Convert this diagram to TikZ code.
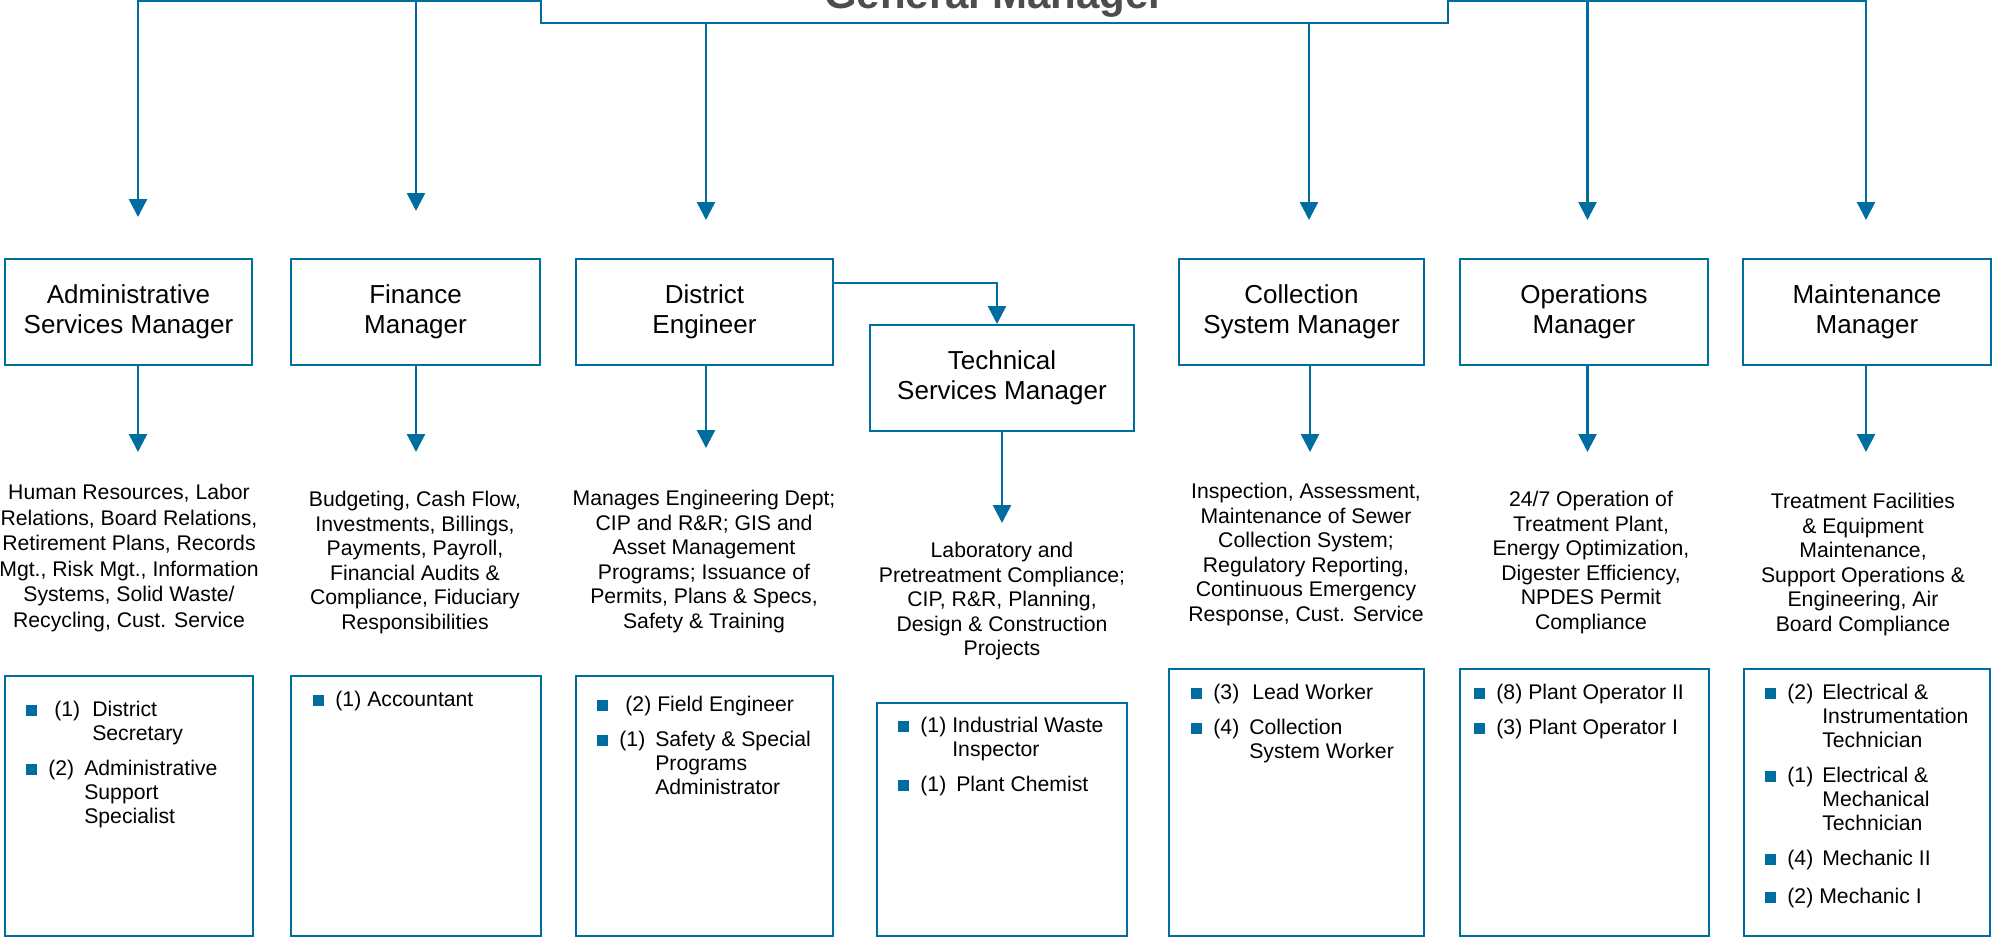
\documentclass[tikz,border=0pt]{standalone}
\usepackage{fontspec}
\setmainfont{Liberation Sans}
\usetikzlibrary{arrows.meta}

\definecolor{orgblue}{RGB}{0,109,160}
\definecolor{gmgray}{RGB}{77,77,77}

\newcommand{\sq}{\textcolor{orgblue}{\rule[0.3pt]{5.5pt}{5.5pt}}}
\newcommand{\staffitem}[3][4.5pt]{\sq\hspace{5.5pt}#2\hspace{#1}\begin{tabular}[t]{@{}l@{}}#3\end{tabular}}
\newcommand{\itemgap}[1][5.5pt]{\\\noalign{\vskip #1}}

\begin{document}
\begin{tikzpicture}[x=0.5pt,y=-0.5pt,
    mgr/.style={draw=orgblue,line width=1pt,minimum height=53pt,inner sep=0pt,align=center,font=\fontsize{13}{15}\selectfont},
    task/.style={anchor=north,inner sep=0pt,align=center,font=\fontsize{10.6}{12.25}\selectfont},
    staff/.style={draw=orgblue,line width=1pt,inner sep=0pt},
    list/.style={anchor=north west,inner sep=0pt,font=\fontsize{10.6}{12}\selectfont},
    link/.style={draw=orgblue,line width=1.25pt,-{Triangle[length=9pt,width=9pt]}}]
      \useasboundingbox (0,0) rectangle (1995,938);
      \clip (0,0) rectangle (1995,938);

      % top
      \node[draw=orgblue,line width=1pt,anchor=south,minimum width=453.5pt,inner ysep=2.6pt,
            font=\fontsize{21}{25}\selectfont\bfseries,text=gmgray] (gm) at (994.5,24) {General Manager};
      \coordinate (topline) at (0,1);

      % managers
      \foreach \pos/\bw/\name/\txt in {
          {(128.5,312)/123.5pt/admin/Administrative\\Services Manager},
          {(415.5,312)/124.5pt/finance/Finance\\Manager},
          {(704.5,312)/128.5pt/district/District\\Engineer},
          {(1002,378)/132pt/tech/Technical\\Services Manager},
          {(1301.5,312)/122.5pt/collection/Collection\\System Manager},
          {(1584,312)/124pt/ops/Operations\\Manager},
          {(1867,312)/124pt/maint/Maintenance\\Manager}}
      \node[mgr,minimum width=\bw] (\name) at \pos {\txt};

      % duties
      \node[task,font=\fontsize{10.6}{12.75}\selectfont] (admintask) at (129,484) {Human Resources, Labor\\Relations, Board Relations,\\Retirement Plans, Records\\Mgt., Risk Mgt., Information\\Systems, Solid Waste/\\Recycling, Cust. Service};
      \node[task] (financetask) at (415,491) {Budgeting, Cash Flow,\\Investments, Billings,\\Payments, Payroll,\\Financial Audits \&\\Compliance, Fiduciary\\Responsibilities};
      \node[task] (districttask) at (704,490) {Manages Engineering Dept;\\CIP and R\&R; GIS and\\Asset Management\\Programs; Issuance of\\Permits, Plans \& Specs,\\Safety \& Training};
      \node[task] (techtask) at (1002,542) {Laboratory and\\Pretreatment Compliance;\\CIP, R\&R, Planning,\\Design \& Construction\\Projects};
      \node[task] (collectiontask) at (1306,483) {Inspection, Assessment,\\Maintenance of Sewer\\Collection System;\\Regulatory Reporting,\\Continuous Emergency\\Response, Cust. Service};
      \node[task] (opstask) at (1591,491) {24/7 Operation of\\Treatment Plant,\\Energy Optimization,\\Digester Efficiency,\\NPDES Permit\\Compliance};
      \node[task] (mainttask) at (1863,493) {Treatment Facilities\\\& Equipment\\Maintenance,\\Support Operations \&\\Engineering, Air\\Board Compliance};

      % staff boxes
      \foreach \pos/\bw/\bh/\name in {
          {(129,806)/124pt/130pt/adminstaff},
          {(416,806)/125pt/130pt/financestaff},
          {(704.5,806)/128.5pt/130pt/districtstaff},
          {(1002,819.5)/125pt/116.5pt/techstaff},
          {(1296.5,802.5)/127.5pt/133.5pt/collectionstaff},
          {(1584.5,802.5)/124.5pt/133.5pt/opsstaff},
          {(1867,802.5)/123pt/133.5pt/maintstaff}}
      \node[staff,minimum width=\bw,minimum height=\bh] (\name) at \pos {};

      \node[list] (adminlist) at ([shift={(22,24)}]adminstaff.north west) {\begin{tabular}{@{}l@{}}
          \staffitem[6pt]{\hspace{3pt}(1)}{District\\Secretary}\itemgap
          \staffitem[5pt]{(2)}{Administrative\\Support\\Specialist}\end{tabular}};
      \node[list] (financelist) at ([shift={(23,14)}]financestaff.north west) {\begin{tabular}{@{}l@{}}
          \staffitem[3pt]{(1)}{Accountant}\end{tabular}};
      \node[list] (districtlist) at ([shift={(22,19)}]districtstaff.north west) {\begin{tabular}{@{}l@{}}
          \staffitem[3pt]{\hspace{3pt}(2)}{Field Engineer}\itemgap
          \staffitem[5pt]{(1)}{Safety \& Special\\Programs\\Administrator}\end{tabular}};
      \node[list] (techlist) at ([shift={(22,13)}]techstaff.north west) {\begin{tabular}{@{}l@{}}
          \staffitem[3pt]{(1)}{Industrial Waste\\Inspector}\itemgap
          \staffitem[5pt]{(1)}{Plant Chemist}\end{tabular}};
      \node[list] (collectionlist) at ([shift={(23,14)}]collectionstaff.north west) {\begin{tabular}{@{}l@{}}
          \staffitem[6.5pt]{(3)}{Lead Worker}\itemgap
          \staffitem[5pt]{(4)}{Collection\\System Worker}\end{tabular}};
      \node[list] (opslist) at ([shift={(15,14)}]opsstaff.north west) {\begin{tabular}{@{}l@{}}
          \staffitem[3pt]{(8)}{Plant Operator II}\itemgap
          \staffitem[3pt]{(3)}{Plant Operator I}\end{tabular}};
      \node[list] (maintlist) at ([shift={(22,14)}]maintstaff.north west) {\begin{tabular}{@{}l@{}}
          \staffitem{(2)}{Electrical \&\\Instrumentation\\Technician}\itemgap
          \staffitem{(1)}{Electrical \&\\Mechanical\\Technician}\itemgap
          \staffitem{(4)}{Mechanic II}\itemgap[7pt]
          \staffitem[3pt]{(2)}{Mechanic I}\end{tabular}};

      % connectors
      \foreach \dest/\dx/\gap in {admin/4.75pt/20.5pt, finance/0.25pt/23.5pt}
      {
        \coordinate (\dest-in) at ([xshift=\dx]\dest.north);
        \path[link,shorten >=\gap] (gm.west |- topline) -| (\dest-in);
      }
      \foreach \dest/\dx in {ops/1.75pt, maint/-0.5pt}
      {
        \coordinate (\dest-in) at ([xshift=\dx]\dest.north);
        \path[link,shorten >=19pt] (gm.east |- topline) -| (\dest-in);
      }
      \foreach \dest/\dx in {district/0.75pt, collection/3.75pt}
      {
        \coordinate (\dest-in) at ([xshift=\dx]\dest.north);
        \path[link,shorten >=19pt] (\dest-in |- gm.south) -- (\dest-in);
      }
      \path[link] ([yshift=14.5pt]district.east) -| ([xshift=-2.5pt]tech.north);

      \foreach \src/\dest/\dx/\gap in {admin/admintask/4.75pt/16pt, finance/financetask/0.25pt/19.5pt,
          district/districttask/0.75pt/21pt, collection/collectiontask/4.25pt/15.5pt,
          ops/opstask/1.75pt/19.5pt, maint/mainttask/-0.5pt/20.5pt, tech/techtask/0pt/9.5pt}
      {
        \coordinate (\src-out) at ([xshift=\dx]\src.south);
        \path[link,shorten >=\gap] (\src-out) -- (\src-out |- \dest.north);
      }
    \end{tikzpicture}
\end{document}
